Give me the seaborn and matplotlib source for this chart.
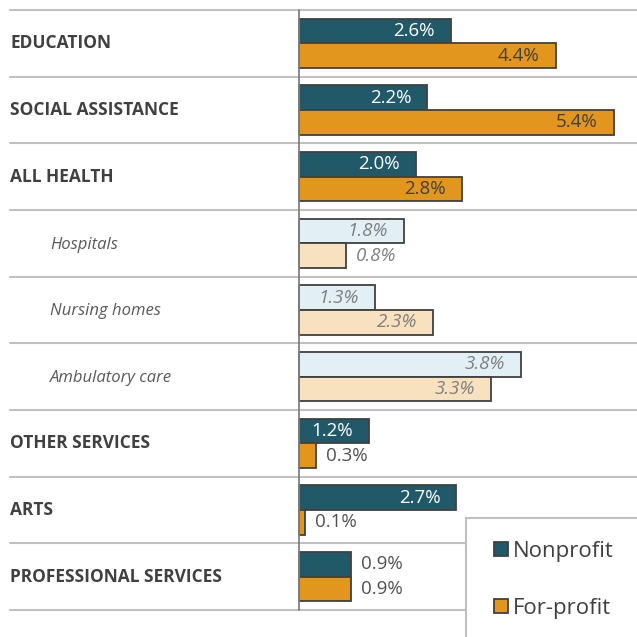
import pandas as pd
import matplotlib.pyplot as plt
import seaborn as sns
from matplotlib.patches import Rectangle

# ------------------------------
# Data
# ------------------------------
categories = ["EDUCATION", "SOCIAL ASSISTANCE", "ALL HEALTH", "Hospitals",
              "Nursing homes", "Ambulatory care", "OTHER SERVICES", "ARTS",
              "PROFESSIONAL SERVICES"]
nonprofit = [2.6, 2.2, 2.0, 1.8, 1.3, 3.8, 1.2, 2.7, 0.9]
forprofit = [4.4, 5.4, 2.8, 0.8, 2.3, 3.3, 0.3, 0.1, 0.9]
is_sub = [False, False, False, True, True, True, False, False, False]
sectors = ["Nonprofit", "For-profit"]

df = pd.DataFrame({
    "category": categories * 2,
    "value": nonprofit + forprofit,
    "sector": [sectors[0]] * len(categories) + [sectors[1]] * len(categories),
})

# ------------------------------
# Style
# ------------------------------
sns.set_style("white")
plt.rcParams["font.family"] = ["Open Sans", "DejaVu Sans"]

TEAL = "#225968"
ORANGE = "#e3961e"
LIGHT_TEAL = "#e2f0f6"
LIGHT_ORANGE = "#f8e1be"
EDGE = "#404040"
GRID = "#c0c0c0"

W = 637
PX = 58.3      # pixels per percentage point
X0 = 299       # pixel position of zero
ROW = 66.67    # row height in pixels
TOP = 10       # first separator

fig = plt.figure(figsize=(6.37, 6.37), dpi=100)
ax = fig.add_axes([0, 0, 1, 1])

sns.barplot(data=df, y="category", x="value", hue="sector", orient="h",
            palette=[TEAL, ORANGE], saturation=1, width=0.74, gap=0,
            edgecolor=EDGE, linewidth=1.3, ax=ax, legend=False, zorder=3)

ax.set_xlim(-X0 / PX, (W - X0) / PX)
ax.set_ylim(8.5 + (W - TOP - 9 * ROW) / ROW, -0.5 - TOP / ROW)
ax.axis("off")


def px(x):
    return (x - X0) / PX


# lighten the health sub-sector bars
for i, sub in enumerate(is_sub):
    if sub:
        ax.containers[0].patches[i].set_facecolor(LIGHT_TEAL)
        ax.containers[1].patches[i].set_facecolor(LIGHT_ORANGE)

# separators and zero line
for k in range(len(categories) + 1):
    ax.plot([px(10), px(W + 5)], [k - 0.5, k - 0.5], color=GRID, lw=1.5,
            zorder=1, clip_on=False)
ax.plot([0, 0], [-0.5, len(categories) - 0.5], color="#808080", lw=1.3, zorder=4)

# category labels
for i, cat in enumerate(categories):
    if is_sub[i]:
        ax.text(px(50), i + 0.02, cat, ha="left", va="center", fontsize=12,
                style="italic", color="#595959")
    else:
        ax.text(px(10), i, cat, ha="left", va="center", fontsize=12.5,
                weight="bold", color="#404040")

# value labels
off = 0.185
for h, vals in enumerate([nonprofit, forprofit]):
    for i, v in enumerate(vals):
        y = i - off if h == 0 else i + off
        if is_sub[i]:
            color_in, color_out, st = "#7f7f7f", "#7f7f7f", "italic"
        else:
            color_in = "white" if h == 0 else "#404040"
            color_out, st = "#505050", "normal"
        if v >= 1.0:
            ax.text(v - 16 / PX, y, f"{v:.1f}%", ha="right", va="center",
                    fontsize=13.5, color=color_in, style=st, zorder=5)
        else:
            ax.text(v + 10 / PX, y, f"{v:.1f}%", ha="left", va="center",
                    fontsize=13.5, color=color_out, style=st, zorder=5)

# legend box
ax.add_patch(Rectangle((466 / W, -0.1), 0.4, 0.1 + (W - 518) / W,
                       transform=fig.transFigure, facecolor="white",
                       edgecolor=GRID, lw=1.5, zorder=10, clip_on=False))
handles = [Rectangle((0, 0), 1, 1, facecolor=c, edgecolor=EDGE, lw=1.3)
           for c in [TEAL, ORANGE]]
fig.legend(handles, sectors, loc="upper left",
           bbox_to_anchor=(474 / W, 1 - 521 / W), frameon=False,
           fontsize=16, labelspacing=1.6, handlelength=0.62,
           handleheight=0.62, handletextpad=0.25, labelcolor="#404040")

fig.savefig("out.png", dpi=100)
